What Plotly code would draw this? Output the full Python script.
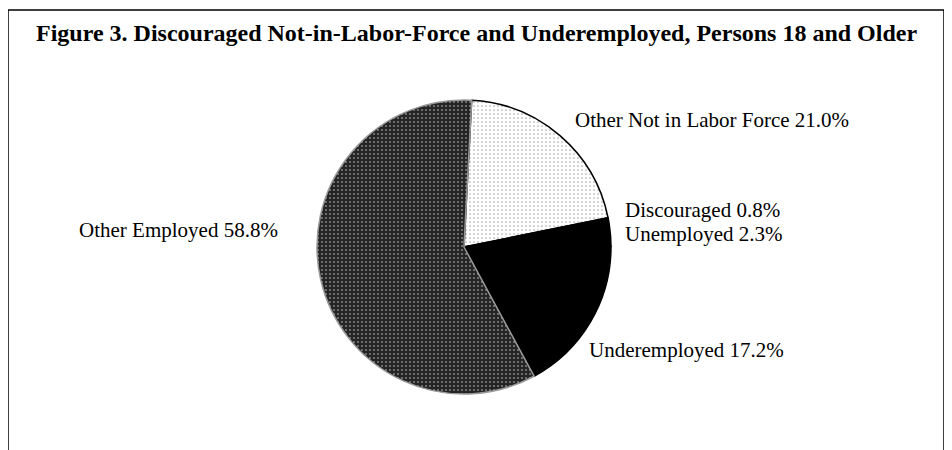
import plotly.graph_objects as go

title_text = "Figure 3. Discouraged Not-in-Labor-Force and Underemployed, Persons 18 and Older"
categories = ["Other Not in Labor Force", "Discouraged", "Unemployed", "Underemployed", "Other Employed"]
values = [21.0, 0.8, 2.3, 17.2, 58.8]

fill_colors = ["#f4f4f4", "#000000", "#000000", "#000000", "#2b2b2b"]
pat_shapes = [".", "", "", "", "."]
pat_fg = ["#555555", "#000000", "#000000", "#000000", "#d8d8d8"]
pat_bg = ["#ffffff", "#000000", "#000000", "#000000", "#242424"]
pat_solid = [0.14, 0.3, 0.3, 0.3, 0.22]

OFF = 8  # page body margin
W, H = 952 - OFF, 450 - OFF
cx, cy, r = 464 - OFF, 247 - OFF, 147


def px(x):
    return (x - OFF) / W


def py(y):
    return 1 - (y - OFF) / H


fig = go.Figure()
fig.add_trace(go.Pie(
    labels=categories,
    values=values,
    sort=False,
    direction="clockwise",
    rotation=3,
    textinfo="none",
    hoverinfo="label+percent",
    showlegend=False,
    marker=dict(
        colors=fill_colors,
        line=dict(color=["#000000", "#000000", "#000000", "#000000", "#9a9a9a"], width=1.5),
        pattern=dict(shape=pat_shapes, fgcolor=pat_fg, bgcolor=pat_bg,
                     size=4, solidity=pat_solid, fillmode="overlay"),
    ),
    domain=dict(x=[(cx - r) / W, (cx + r) / W], y=[(H - cy - r) / H, (H - cy + r) / H]),
))

label_pos = [(573, 120), (623, 210), (623, 234), (587, 350), (77, 230)]
for name, v, (lx, ly) in zip(categories, values, label_pos):
    fig.add_annotation(
        x=px(lx), y=py(ly), xref="paper", yref="paper",
        xanchor="left", yanchor="middle", showarrow=False,
        text=f"{name} {v:.1f}%",
        font=dict(family="Liberation Serif", size=21, color="#000000"),
    )

fig.add_annotation(
    x=px(476), y=py(33), xref="paper", yref="paper",
    xanchor="center", yanchor="middle", showarrow=False,
    text=f"<b>{title_text}</b>",
    font=dict(family="Liberation Serif", size=24, color="#000000"),
)

fig.add_shape(type="rect", xref="paper", yref="paper",
              x0=px(8), x1=px(944), y0=-0.05, y1=py(10),
              line=dict(color="#000000", width=1.5), fillcolor="rgba(0,0,0,0)")

fig.update_layout(
    width=W, height=H,
    margin=dict(l=0, r=0, t=0, b=0),
    paper_bgcolor="#ffffff",
    plot_bgcolor="#ffffff",
)

fig.write_html("out.html")
